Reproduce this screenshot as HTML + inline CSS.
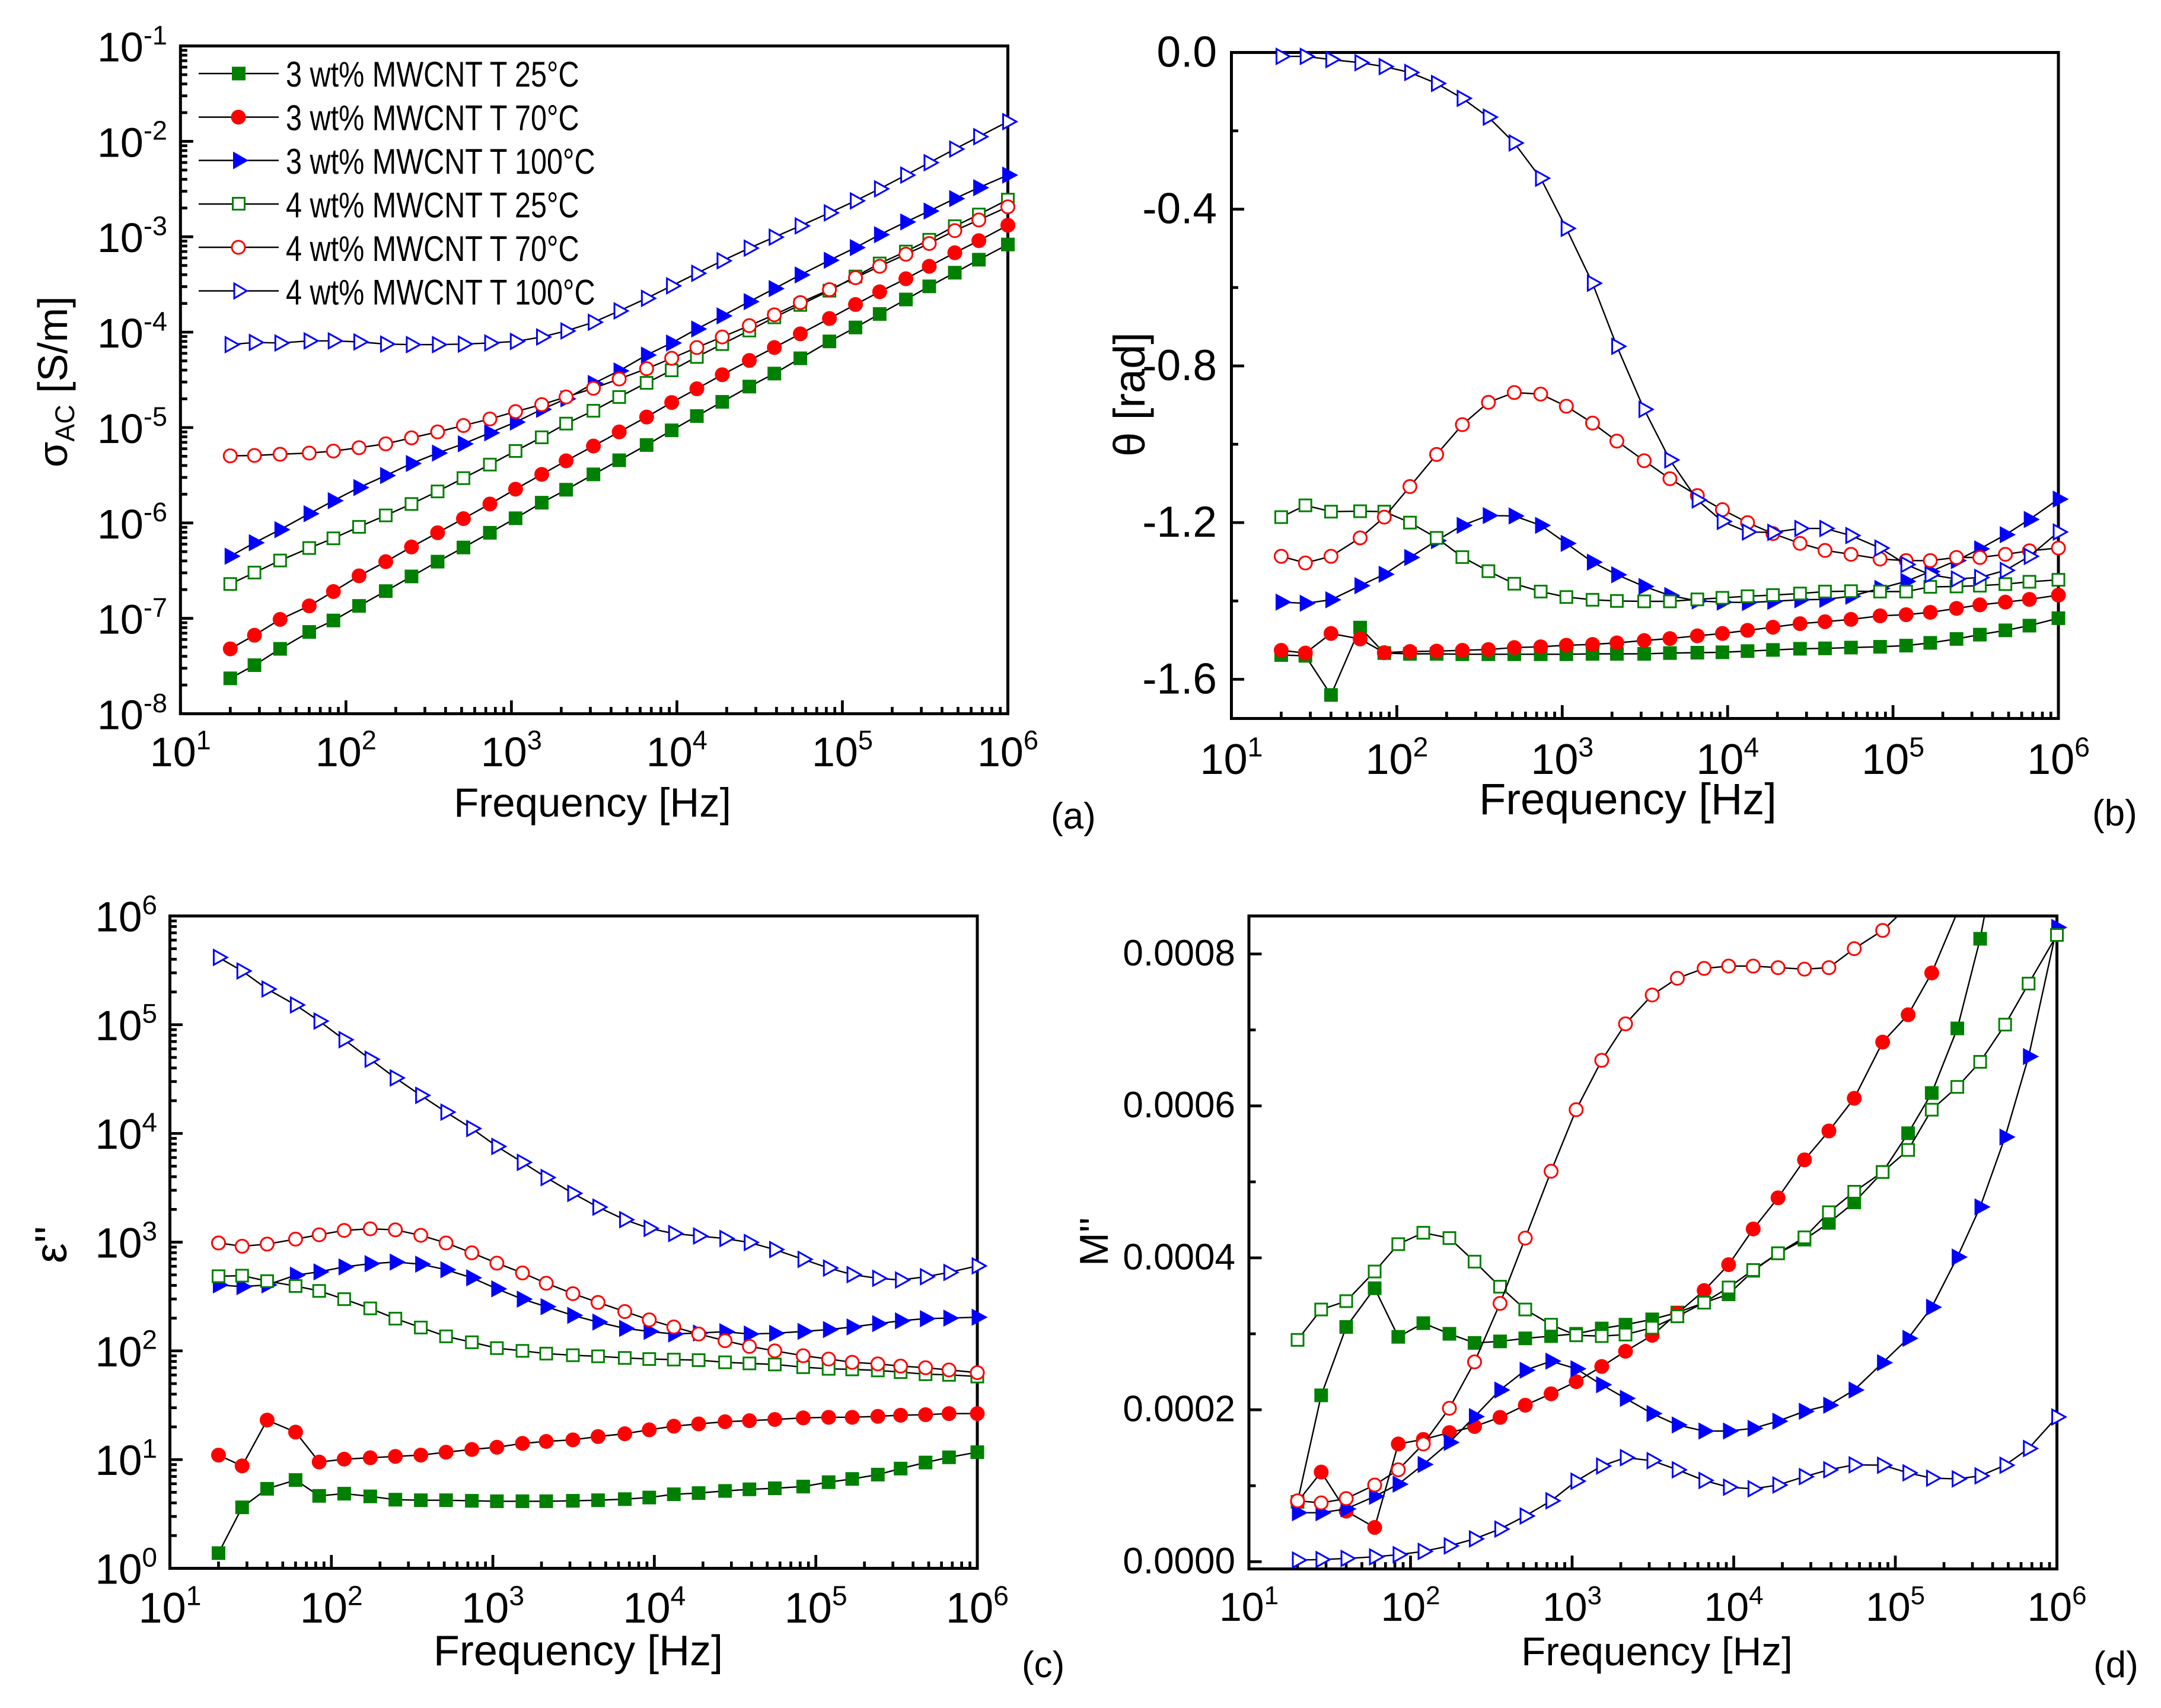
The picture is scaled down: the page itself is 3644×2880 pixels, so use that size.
<!DOCTYPE html>
<html lang="en">
<head>
<meta charset="utf-8">
<title>MWCNT dielectric spectra</title>
<style>
html,body{margin:0;padding:0;background:#fff;}
svg{display:block;}
text{font-family:"Liberation Sans",sans-serif;fill:#000;}
</style>
</head>
<body>
<svg id="figure" xmlns="http://www.w3.org/2000/svg" width="3644" height="2880" viewBox="0 0 3644 2880">
<rect x="0" y="0" width="3644" height="2880" fill="#fff"/>
<g id="panel-a"></g>
<g id="panel-b"></g>
<g id="panel-c"></g>
<g id="panel-d"></g>

<text transform="translate(113,788) rotate(-90)" font-size="70">σ<tspan font-size="45" dy="12">AC</tspan><tspan dy="-12"> [S/m]</tspan></text>
<text transform="translate(1930,770) rotate(-90)" font-size="74">θ [rad]</text>
<text transform="translate(112,2130) rotate(-90)" font-size="76">ε''</text>
<text transform="translate(1868,2135) rotate(-90)" font-size="68">M''</text>

<text x="999" y="1377" font-size="69" text-anchor="middle">Frequency [Hz]</text>
<text x="2745" y="1373" font-size="74" text-anchor="middle">Frequency [Hz]</text>
<text x="975" y="2808" font-size="72" text-anchor="middle">Frequency [Hz]</text>
<text x="2794" y="2808" font-size="67.5" text-anchor="middle">Frequency [Hz]</text>

<text x="1772" y="1397" font-size="62">(a)</text>
<text x="3528" y="1392" font-size="62">(b)</text>
<text x="1723" y="2828" font-size="62">(c)</text>
<text x="3530" y="2828" font-size="62">(d)</text>

<g id="legend">
  <g>
    <line x1="335" x2="470" y1="124" y2="124" stroke="#000" stroke-width="2.4"/>
    <rect x="391" y="112.5" width="23" height="23" fill="#008000"/>
    <text transform="translate(482,146) scale(0.81,1)" font-size="60">3 wt% MWCNT T 25°C</text>
  </g>
  <g>
    <line x1="335" x2="470" y1="197.5" y2="197.5" stroke="#000" stroke-width="2.4"/>
    <circle cx="402" cy="197.5" r="12.5" fill="#ff0000"/>
    <text transform="translate(482,219.5) scale(0.81,1)" font-size="60">3 wt% MWCNT T 70°C</text>
  </g>
  <g>
    <line x1="335" x2="470" y1="270.5" y2="270.5" stroke="#000" stroke-width="2.4"/>
    <polygon points="393,255.5 419,270.5 393,285.5" fill="#0000ff"/>
    <text transform="translate(482,293) scale(0.81,1)" font-size="60">3 wt% MWCNT T 100°C</text>
  </g>
  <g>
    <line x1="335" x2="470" y1="344" y2="344" stroke="#000" stroke-width="2.4"/>
    <rect x="392.5" y="333.5" width="20" height="20" fill="#fff" stroke="#008000" stroke-width="3"/>
    <text transform="translate(482,366.5) scale(0.81,1)" font-size="60">4 wt% MWCNT T 25°C</text>
  </g>
  <g>
    <line x1="335" x2="470" y1="417" y2="417" stroke="#000" stroke-width="2.4"/>
    <circle cx="402" cy="417" r="11" fill="#fff" stroke="#ff0000" stroke-width="3"/>
    <text transform="translate(482,440) scale(0.81,1)" font-size="60">4 wt% MWCNT T 70°C</text>
  </g>
  <g>
    <line x1="335" x2="470" y1="490.5" y2="490.5" stroke="#000" stroke-width="2.4"/>
    <polygon points="395,478 416,490.5 395,503" fill="#fff" stroke="#0000ff" stroke-width="3"/>
    <text transform="translate(482,513.5) scale(0.81,1)" font-size="60">4 wt% MWCNT T 100°C</text>
  </g>
</g>
</svg>

<script>
// Shared frequency axis (Hz)
const frequencyHz = [20,28,40,60,84,120,174,249,358,513,741,1059,1525,2140,3130,4480,6560,9300,13200,18800,27400,38800,55700,83500,120000,168000,242000,335000,478000,668000,1000000];

// Panel (a) AC conductivity, S/m
const sigma3wt25 = [2.35e-8,3.23e-8,4.79e-8,7.2e-8,9.5e-8,1.35e-7,1.93e-7,2.75e-7,3.93e-7,5.53e-7,7.89e-7,1.12e-6,1.63e-6,2.23e-6,3.23e-6,4.54e-6,6.56e-6,9.35e-6,1.32e-5,1.86e-5,2.69e-5,3.68e-5,5.32e-5,8.0e-5,1.12e-4,1.55e-4,2.2e-4,3.02e-4,4.2e-4,5.75e-4,8.3e-4];
const sigma3wt70 = [4.79e-8,6.65e-8,9.75e-8,1.35e-7,1.91e-7,2.79e-7,3.93e-7,5.6e-7,7.89e-7,1.11e-6,1.58e-6,2.26e-6,3.23e-6,4.48e-6,6.4e-6,9.0e-6,1.29e-5,1.83e-5,2.55e-5,3.58e-5,5.05e-5,6.9e-5,9.6e-5,1.39e-4,1.95e-4,2.65e-4,3.63e-4,4.9e-4,6.8e-4,9.1e-4,1.32e-3];
const sigma3wt100 = [4.48e-7,6.2e-7,8.5e-7,1.25e-6,1.71e-6,2.35e-6,3.14e-6,4.2e-6,5.4e-6,6.75e-6,8.8e-6,1.14e-5,1.55e-5,2.0e-5,2.9e-5,3.93e-5,5.75e-5,7.7e-5,1.08e-4,1.48e-4,2.09e-4,2.86e-4,3.98e-4,5.67e-4,7.7e-4,1.05e-3,1.43e-3,1.86e-3,2.51e-3,3.27e-3,4.43e-3];
const sigma4wt25 = [2.29e-7,3.02e-7,4.04e-7,5.46e-7,6.9e-7,9.1e-7,1.2e-6,1.58e-6,2.14e-6,2.95e-6,4.09e-6,5.68e-6,7.9e-6,1.1e-5,1.5e-5,2.09e-5,2.94e-5,3.98e-5,5.5e-5,7.5e-5,1.04e-4,1.43e-4,1.93e-4,2.72e-4,3.83e-4,5.25e-4,7.0e-4,9.3e-4,1.29e-3,1.71e-3,2.45e-3];
const sigma4wt70 = [5.05e-6,5.1e-6,5.25e-6,5.4e-6,5.67e-6,6.15e-6,6.75e-6,7.8e-6,9.0e-6,1.05e-5,1.23e-5,1.47e-5,1.74e-5,2.09e-5,2.58e-5,3.23e-5,4.14e-5,5.32e-5,6.9e-5,8.9e-5,1.17e-4,1.52e-4,2.04e-4,2.79e-4,3.72e-4,4.9e-4,6.56e-4,8.5e-4,1.16e-3,1.5e-3,2.06e-3];
const sigma4wt100 = [7.4e-5,7.8e-5,7.7e-5,8.1e-5,8.1e-5,7.9e-5,7.5e-5,7.4e-5,7.4e-5,7.5e-5,7.7e-5,8.0e-5,8.9e-5,1.03e-4,1.27e-4,1.67e-4,2.26e-4,3.06e-4,4.14e-4,5.6e-4,7.6e-4,9.9e-4,1.3e-3,1.78e-3,2.38e-3,3.18e-3,4.43e-3,5.98e-3,8.3e-3,1.12e-2,1.61e-2];

// Panel (b) phase angle, rad
const theta3wt25 = [-1.538,-1.54,-1.64,-1.468,-1.533,-1.535,-1.535,-1.536,-1.536,-1.536,-1.536,-1.536,-1.535,-1.535,-1.535,-1.533,-1.532,-1.531,-1.528,-1.525,-1.522,-1.521,-1.519,-1.517,-1.514,-1.507,-1.497,-1.486,-1.475,-1.463,-1.444];
const theta3wt70 = [-1.526,-1.533,-1.483,-1.497,-1.532,-1.529,-1.528,-1.526,-1.524,-1.519,-1.517,-1.513,-1.511,-1.507,-1.501,-1.496,-1.489,-1.483,-1.475,-1.467,-1.458,-1.453,-1.447,-1.438,-1.435,-1.429,-1.419,-1.41,-1.403,-1.396,-1.385];
const theta3wt100 = [-1.403,-1.406,-1.397,-1.361,-1.332,-1.289,-1.246,-1.207,-1.182,-1.183,-1.207,-1.253,-1.301,-1.333,-1.363,-1.386,-1.4,-1.403,-1.404,-1.401,-1.397,-1.396,-1.388,-1.368,-1.35,-1.325,-1.297,-1.267,-1.231,-1.192,-1.14];
const theta4wt25 = [-1.186,-1.156,-1.172,-1.171,-1.172,-1.2,-1.239,-1.288,-1.324,-1.356,-1.376,-1.39,-1.397,-1.4,-1.401,-1.401,-1.396,-1.392,-1.388,-1.385,-1.381,-1.376,-1.375,-1.376,-1.376,-1.364,-1.363,-1.361,-1.357,-1.351,-1.346];
const theta4wt70 = [-1.286,-1.303,-1.286,-1.239,-1.186,-1.108,-1.026,-0.95,-0.893,-0.868,-0.872,-0.903,-0.946,-0.992,-1.042,-1.088,-1.131,-1.167,-1.2,-1.228,-1.253,-1.271,-1.281,-1.293,-1.297,-1.297,-1.289,-1.289,-1.281,-1.272,-1.265];
const theta4wt100 = [-0.01,-0.01,-0.018,-0.026,-0.036,-0.051,-0.079,-0.117,-0.165,-0.231,-0.321,-0.449,-0.589,-0.75,-0.911,-1.04,-1.142,-1.197,-1.224,-1.225,-1.215,-1.215,-1.233,-1.265,-1.307,-1.333,-1.344,-1.34,-1.322,-1.286,-1.224];

// Panel (c) dielectric loss
const loss3wt25 = [1.38,3.64,5.39,6.49,4.64,4.86,4.59,4.28,4.23,4.23,4.18,4.14,4.14,4.14,4.18,4.23,4.33,4.48,4.8,4.92,5.15,5.33,5.45,5.65,6.2,6.64,7.28,8.27,9.4,10.5,11.7];
const loss3wt70 = [11.0,8.75,23.1,17.9,9.5,10.1,10.4,10.7,11.0,11.7,12.4,13.0,14.1,14.7,15.2,16.3,17.3,18.8,20.3,21.3,22.3,22.8,23.4,24.2,24.5,24.5,25.0,25.6,25.9,26.5,26.5];
const loss3wt100 = [404,390,404,497,533,592,634,656,627,558,470,372,299,255,212,184,161,151,143,146,150,143,145,151,157,166,178,189,198,200,204];
const loss4wt25 = [486,492,438,395,356,299,246,198,164,136,120,106,100,94.4,91.2,89.1,86.1,84.1,83.2,82.2,78.5,76.7,75,70.8,68.4,67.6,66.1,63.8,61,60.2,58.1];
const loss4wt70 = [983,917,960,1066,1169,1282,1326,1297,1156,983,798,641,521,419,336,279,230,193,166,143,124,110,100,90.2,84.1,78.5,75.9,72.4,70,66.8,63.1];
const loss4wt100 = [416000,312000,213000,152000,108000,72800,48100,32400,22400,15700,11100,7590,5420,3930,2810,2100,1610,1340,1200,1140,1080,993,855,695,578,503,465,449,481,527,605];

// Panel (d) loss modulus
const modulus3wt25 = [0.788e-4,2.19e-4,3.09e-4,3.6e-4,2.96e-4,3.14e-4,3.0e-4,2.88e-4,2.9e-4,2.94e-4,2.97e-4,3.0e-4,3.07e-4,3.12e-4,3.19e-4,3.28e-4,3.41e-4,3.52e-4,3.83e-4,4.06e-4,4.24e-4,4.46e-4,4.73e-4,5.13e-4,5.64e-4,6.17e-4,7.02e-4,8.2e-4,9.96e-4,11.5e-4,13.5e-4];
const modulus3wt70 = [0.788e-4,1.18e-4,0.666e-4,0.451e-4,1.55e-4,1.61e-4,1.70e-4,1.78e-4,1.90e-4,2.06e-4,2.21e-4,2.37e-4,2.57e-4,2.77e-4,2.98e-4,3.27e-4,3.57e-4,3.91e-4,4.38e-4,4.79e-4,5.29e-4,5.67e-4,6.10e-4,6.84e-4,7.2e-4,7.75e-4,8.55e-4,9.9e-4,11.5e-4,13.5e-4,15.5e-4];
const modulus3wt100 = [0.645e-4,0.645e-4,0.695e-4,0.86e-4,1.02e-4,1.28e-4,1.57e-4,1.91e-4,2.26e-4,2.52e-4,2.64e-4,2.54e-4,2.33e-4,2.15e-4,1.95e-4,1.80e-4,1.72e-4,1.72e-4,1.755e-4,1.85e-4,1.98e-4,2.06e-4,2.26e-4,2.62e-4,2.94e-4,3.35e-4,4.01e-4,4.67e-4,5.59e-4,6.65e-4,8.35e-4];
const modulus4wt25 = [2.92e-4,3.32e-4,3.43e-4,3.82e-4,4.18e-4,4.33e-4,4.26e-4,3.95e-4,3.62e-4,3.32e-4,3.12e-4,2.98e-4,2.97e-4,2.99e-4,3.08e-4,3.23e-4,3.41e-4,3.61e-4,3.84e-4,4.06e-4,4.27e-4,4.6e-4,4.87e-4,5.13e-4,5.42e-4,5.95e-4,6.25e-4,6.58e-4,7.07e-4,7.61e-4,8.25e-4];
const modulus4wt70 = [0.802e-4,0.774e-4,0.831e-4,1.01e-4,1.21e-4,1.55e-4,2.02e-4,2.63e-4,3.40e-4,4.26e-4,5.14e-4,5.95e-4,6.60e-4,7.08e-4,7.46e-4,7.68e-4,7.81e-4,7.84e-4,7.84e-4,7.82e-4,7.8e-4,7.82e-4,8.07e-4,8.31e-4,8.63e-4,9.0e-4,9.6e-4,10.5e-4,11.5e-4,12.5e-4,14e-4];
const modulus4wt100 = [0.0215e-4,0.0287e-4,0.043e-4,0.064e-4,0.093e-4,0.136e-4,0.208e-4,0.301e-4,0.43e-4,0.602e-4,0.802e-4,1.06e-4,1.26e-4,1.37e-4,1.33e-4,1.21e-4,1.07e-4,0.981e-4,0.96e-4,1.01e-4,1.12e-4,1.21e-4,1.275e-4,1.27e-4,1.17e-4,1.10e-4,1.09e-4,1.13e-4,1.27e-4,1.49e-4,1.905e-4];

// Tick labels
const xTickExponents = [1,2,3,4,5,6];
const sigmaTickExponents = [-8,-7,-6,-5,-4,-3,-2,-1];
const lossTickExponents = [0,1,2,3,4,5,6];
const thetaTickLabels = ["0.0","-0.4","-0.8","-1.2","-1.6"];
const thetaTickValues = [0,-0.4,-0.8,-1.2,-1.6];
const thetaMinorTicks = [-0.2,-0.6,-1.0,-1.4];
const modulusTickLabels = ["0.0000","0.0002","0.0004","0.0006","0.0008"];
const modulusTickValues = [0,0.0002,0.0004,0.0006,0.0008];
const modulusMinorTicks = [0.0001,0.0003,0.0005,0.0007];

const SVG_NS = "http://www.w3.org/2000/svg";
const seriesStyles = [
  {name:"3wt-25c", shape:"square", color:"#008000", open:false},
  {name:"3wt-70c", shape:"circle", color:"#ff0000", open:false},
  {name:"3wt-100c", shape:"triangle", color:"#0000ff", open:false},
  {name:"4wt-25c", shape:"square", color:"#008000", open:true},
  {name:"4wt-70c", shape:"circle", color:"#ff0000", open:true},
  {name:"4wt-100c", shape:"triangle", color:"#0000ff", open:true}
];

function make(tag, attrs, parent) {
  const el = document.createElementNS(SVG_NS, tag);
  for (const k in attrs) el.setAttribute(k, attrs[k]);
  parent.appendChild(el);
  return el;
}
function logScale(d0, d1, r0, r1) {
  return v => r0 + (Math.log10(v) - d0) / (d1 - d0) * (r1 - r0);
}
function linScale(d0, d1, r0, r1) {
  return v => r0 + (v - d0) / (d1 - d0) * (r1 - r0);
}
function powerLabel(parent, exponent, x, y, anchor, size) {
  const t = make("text", {x: x, y: y, "font-size": size, "text-anchor": anchor}, parent);
  
  
  t.appendChild(document.createTextNode("10"));
  const s = make("tspan", {"font-size": size * 0.645, dy: -size * 0.41}, t);
  s.textContent = String(exponent);
  return t;
}
function drawMarker(group, style, cx, cy) {
  const fill = style.open ? "#fff" : style.color;
  const stroke = style.open ? style.color : "none";
  const sw = style.open ? 3 : 0;
  let m;
  if (style.shape === "square") {
    const h = style.open ? 10 : 11.5;
    m = make("rect", {x: cx - h, y: cy - h, width: 2 * h, height: 2 * h, fill: fill, stroke: stroke, "stroke-width": sw}, group);
  } else if (style.shape === "circle") {
    m = make("circle", {cx: cx, cy: cy, r: style.open ? 11 : 12.5, fill: fill, stroke: stroke, "stroke-width": sw}, group);
  } else {
    const pts = (style.open
      ? [[cx - 8, cy - 12.5], [cx + 14.5, cy], [cx - 8, cy + 12.5]]
      : [[cx - 9.5, cy - 14.5], [cx + 17.5, cy], [cx - 9.5, cy + 14.5]]).map(p => p.join(",")).join(" ");
    m = make("polygon", {points: pts, fill: fill, stroke: stroke, "stroke-width": sw}, group);
  }
  
  
}
function drawPanel(p) {
  const root = document.getElementById(p.id);
  const f = p.frame;
  const xOf = linScale(1, 6, f.left, f.right);
  const yOf = p.yScale(f.bottom, f.top);

  const defs = make("defs", {}, root);
  const clip = make("clipPath", {id: p.id + "-clip"}, defs);
  make("rect", {x: f.left, y: f.top, width: f.right - f.left, height: f.bottom - f.top}, clip);

  // x ticks
  const axisX = make("g", {stroke: "#000", "stroke-width": 4.7}, root);
  
  
  xTickExponents.forEach(e => {
    const x = xOf(e);
    make("line", {x1: x, x2: x, y1: f.bottom, y2: f.bottom - 22.5}, axisX);
    if (e < 6) for (let k = 2; k < 10; k++) {
      const xm = xOf(e + Math.log10(k));
      make("line", {x1: xm, x2: xm, y1: f.bottom, y2: f.bottom - 11.5}, axisX);
    }
    powerLabel(root, e, x, f.bottom + p.xLabelOffset, "middle", p.xLabelSize);
  });

  // y ticks
  const axisY = make("g", {stroke: "#000", "stroke-width": 4.7}, root);
  
  
  if (p.yExponents) {
    p.yExponents.forEach((e, i) => {
      const y = yOf(Math.pow(10, e));
      make("line", {x1: f.left, x2: f.left + 21.5, y1: y, y2: y}, axisY);
      if (i < p.yExponents.length - 1) for (let k = 2; k < 10; k++) {
        const ym = yOf(k * Math.pow(10, e));
        make("line", {x1: f.left, x2: f.left + 11.5, y1: ym, y2: ym}, axisY);
      }
      powerLabel(root, e, p.yLabelRight, y + 26, "end", p.yLabelSize);
    });
  } else {
    p.yTickValues.forEach((v, i) => {
      const y = yOf(v);
      make("line", {x1: f.left, x2: f.left + 21.5, y1: y, y2: y}, axisY);
      const t = make("text", {x: p.yLabelRight, y: y + p.yLabelDy, "font-size": p.yLabelSize, "text-anchor": "end"}, root);
      
      
      t.textContent = p.yTickLabels[i];
    });
    p.yMinorTicks.forEach(v => {
      const y = yOf(v);
      make("line", {x1: f.left, x2: f.left + 11.5, y1: y, y2: y}, axisY);
    });
  }

  // frame
  const fr = make("rect", {x: f.left, y: f.top, width: f.right - f.left, height: f.bottom - f.top, fill: "none", stroke: "#000", "stroke-width": 5}, root);
  
  

  // series: line first, then its markers
  p.series.forEach((vals, i) => {
    const style = seriesStyles[i];
    const g = make("g", {}, root);
    
    
    const d = vals.map((v, k) => (k ? "L" : "M") + xOf(Math.log10(frequencyHz[k])).toFixed(1) + " " + yOf(v).toFixed(1)).join(" ");
    const line = make("path", {d: d, fill: "none", stroke: "#000", "stroke-width": 2.4, "clip-path": "url(#" + p.id + "-clip)"}, g);
    
    
    vals.forEach((v, k) => {
      const y = yOf(v);
      if (y >= f.top && y <= f.bottom) drawMarker(g, style, xOf(Math.log10(frequencyHz[k])), y);
    });
  });
}

drawPanel({
  id: "panel-a",
  frame: {left: 304.3, right: 1699.5, top: 77.5, bottom: 1203.5},
  yScale: (b, t) => logScale(-8, -1, b, t),
  series: [sigma3wt25, sigma3wt70, sigma3wt100, sigma4wt25, sigma4wt70, sigma4wt100],
  yExponents: sigmaTickExponents,
  yLabelRight: 282,
  yLabelSize: 70,
  xLabelOffset: 88.5,
  xLabelSize: 70
});
drawPanel({
  id: "panel-b",
  frame: {left: 2076.5, right: 3471, top: 88.5, bottom: 1211.5},
  yScale: (b, t) => linScale(-1.7, 0, b, t),
  series: [theta3wt25, theta3wt70, theta3wt100, theta4wt25, theta4wt70, theta4wt100],
  yTickValues: thetaTickValues,
  yTickLabels: thetaTickLabels,
  yMinorTicks: thetaMinorTicks,
  yLabelRight: 2052,
  yLabelSize: 73,
  yLabelDy: 24,
  xLabelOffset: 93.5,
  xLabelSize: 72
});
drawPanel({
  id: "panel-c",
  frame: {left: 286.5, right: 1648, top: 1544.5, bottom: 2644.5},
  yScale: (b, t) => logScale(0, 6, b, t),
  series: [loss3wt25, loss3wt70, loss3wt100, loss4wt25, loss4wt70, loss4wt100],
  yExponents: lossTickExponents,
  yLabelRight: 265,
  yLabelSize: 71,
  xLabelOffset: 91.5,
  xLabelSize: 72
});
drawPanel({
  id: "panel-d",
  frame: {left: 2106, right: 3468.5, top: 1544.5, bottom: 2645.5},
  yScale: (b, t) => linScale(-0.0000095, 0.00085, b, t),
  series: [modulus3wt25, modulus3wt70, modulus3wt100, modulus4wt25, modulus4wt70, modulus4wt100],
  yTickValues: modulusTickValues,
  yTickLabels: modulusTickLabels,
  yMinorTicks: modulusMinorTicks,
  yLabelRight: 2083,
  yLabelSize: 62,
  yLabelDy: 19.5,
  xLabelOffset: 87.5,
  xLabelSize: 68
});
</script>
</body>
</html>
